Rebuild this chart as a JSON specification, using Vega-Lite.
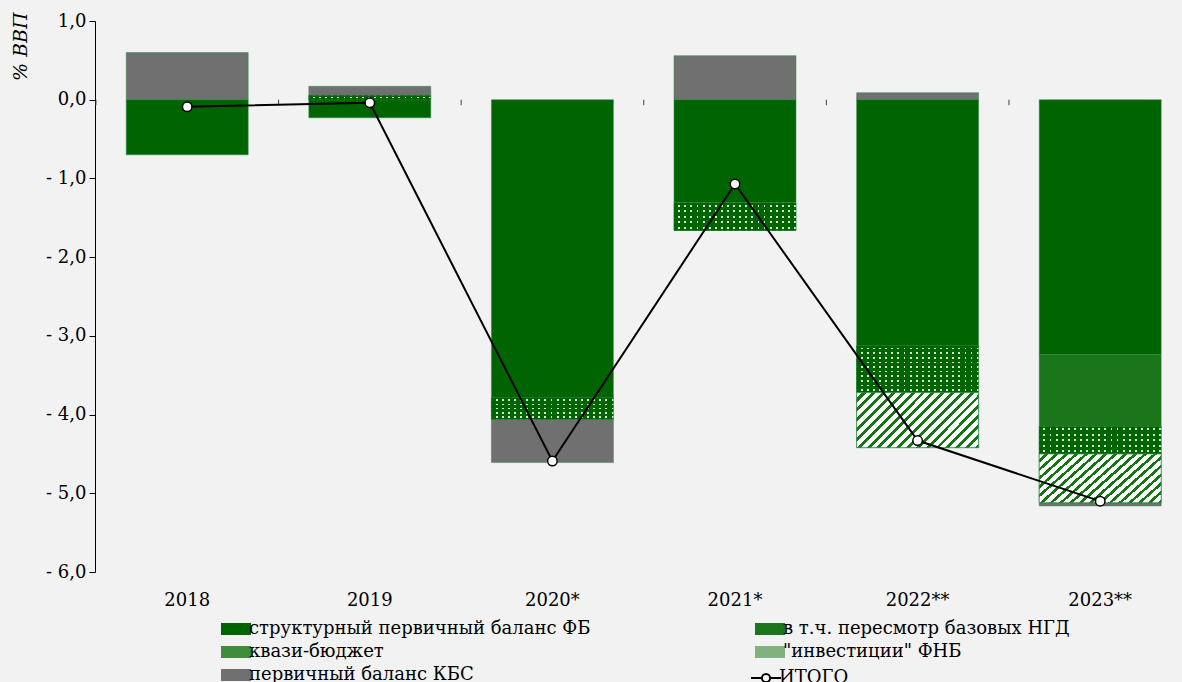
{
  "$schema": "https://vega.github.io/schema/vega-lite/v6.json",
  "autosize": {"type": "none"},
  "width": 1087,
  "height": 551,
  "padding": {"left": 95, "top": 21, "right": 0, "bottom": 110},
  "background": "#f2f2f2",
  "config": {"view": {"stroke": null}, "font": "DejaVu Serif"},
  "datasets": {
    "bars": [
      {"year": "2018", "comp": "первичный баланс КБС", "y0": 0, "y1": 0.6},
      {"year": "2018", "comp": "структурный первичный баланс ФБ", "y0": 0, "y1": -0.7},
      {"year": "2019", "comp": "квази-бюджет", "y0": 0, "y1": 0.055},
      {"year": "2019", "comp": "первичный баланс КБС", "y0": 0.055, "y1": 0.17},
      {"year": "2019", "comp": "структурный первичный баланс ФБ", "y0": 0, "y1": -0.23},
      {"year": "2020*", "comp": "структурный первичный баланс ФБ", "y0": 0, "y1": -3.79},
      {"year": "2020*", "comp": "квази-бюджет", "y0": -3.79, "y1": -4.06},
      {"year": "2020*", "comp": "первичный баланс КБС", "y0": -4.06, "y1": -4.61},
      {"year": "2021*", "comp": "первичный баланс КБС", "y0": 0, "y1": 0.56},
      {"year": "2021*", "comp": "структурный первичный баланс ФБ", "y0": 0, "y1": -1.31},
      {"year": "2021*", "comp": "квази-бюджет", "y0": -1.31, "y1": -1.66},
      {"year": "2022**", "comp": "первичный баланс КБС", "y0": 0, "y1": 0.09},
      {"year": "2022**", "comp": "структурный первичный баланс ФБ", "y0": 0, "y1": -3.13},
      {"year": "2022**", "comp": "квази-бюджет", "y0": -3.13, "y1": -3.72},
      {"year": "2022**", "comp": "\"инвестиции\" ФНБ", "y0": -3.72, "y1": -4.42},
      {"year": "2023**", "comp": "структурный первичный баланс ФБ", "y0": 0, "y1": -3.24},
      {"year": "2023**", "comp": "в т.ч. пересмотр базовых НГД", "y0": -3.24, "y1": -4.15},
      {"year": "2023**", "comp": "квази-бюджет", "y0": -4.15, "y1": -4.5},
      {"year": "2023**", "comp": "\"инвестиции\" ФНБ", "y0": -4.5, "y1": -5.12},
      {"year": "2023**", "comp": "первичный баланс КБС", "y0": -5.12, "y1": -5.16}
    ],
    "total": [
      {"year": "2018", "total": -0.09},
      {"year": "2019", "total": -0.04},
      {"year": "2020*", "total": -4.59},
      {"year": "2021*", "total": -1.07},
      {"year": "2022**", "total": -4.33},
      {"year": "2023**", "total": -5.1}
    ]
  },
  "encoding": {
    "x": {
      "field": "year", "type": "nominal", "sort": null,
      "scale": {"domain": ["2018", "2019", "2020*", "2021*", "2022**", "2023**"], "paddingInner": 0.332, "paddingOuter": 0.1425, "align": 0.6},
      "axis": {"title": null, "ticks": false, "domain": false, "labelAngle": 0, "labelPadding": 19, "labelFontSize": 18, "labelColor": "black", "labelFont": "DejaVu Serif"}
    }
  },
  "layer": [
    {
      "data": {"name": "bars"},
      "mark": {"type": "bar", "stroke": "#2e8b4e", "strokeOpacity": 0.5, "strokeWidth": 1},
      "encoding": {
        "y": {
          "field": "y0", "type": "quantitative",
          "scale": {"domain": [-6, 1], "nice": false, "zero": false},
          "axis": {
            "title": "% ВВП", "values": [1, 0, -1, -2, -3, -4, -5, -6], "grid": false,
            "domainColor": "black", "tickColor": "black", "tickSize": 6, "labelFontSize": 18, "labelColor": "black", "labelPadding": 3, "labelFont": "DejaVu Serif",
            "labelExpr": "datum.value < 0 ? '- ' + replace(format(-datum.value, '.1f'), '.', ',') : replace(format(datum.value, '.1f'), '.', ',')",
            "titleFontStyle": "italic", "titleFontWeight": "normal", "titleFontSize": 19, "titleColor": "black", "titleFont": "DejaVu Serif",
            "titleAngle": -90, "titleX": -75, "titleY": -9, "titleAlign": "right", "titleBaseline": "middle"
          }
        },
        "y2": {"field": "y1"},
        "color": {
          "field": "comp", "type": "nominal",
          "scale": {
            "domain": ["структурный первичный баланс ФБ", "квази-бюджет", "первичный баланс КБС", "в т.ч. пересмотр базовых НГД", "\"инвестиции\" ФНБ"],
            "range": ["#006400", "#3d8d3d", "#707070", "#1b761b", "#7fb27f"]
          },
          "legend": {
            "title": null, "orient": "none", "legendX": 132, "legendY": 599, "columns": 2, "columnPadding": 164, "rowPadding": 5,
            "symbolSize": 225, "symbolType": "M-2,-0.8H2V0.8H-2Z", "symbolStrokeWidth": 0, "labelFontSize": 18, "labelFont": "DejaVu Serif", "labelColor": "black", "labelOffset": 4, "labelLimit": 0
          }
        }
      }
    },
    {
      "data": {"name": "bars"},
      "transform": [{"filter": "datum.comp === 'квази-бюджет'"}],
      "mark": {
        "type": "bar", "stroke": "#2e8b4e", "strokeOpacity": 0.5, "strokeWidth": 1,
        "fill": {"gradient": "linear", "x1": 0, "y1": 0, "x2": 1, "y2": 0, "stops": [
          {"offset": 0, "color": "#006400"}, {"offset": 0.035, "color": "#006400"}, {"offset": 0.035, "color": "#d8e8d8"}, {"offset": 0.05, "color": "#d8e8d8"},
          {"offset": 0.05, "color": "#006400"}, {"offset": 0.085, "color": "#006400"}, {"offset": 0.085, "color": "#d8e8d8"}, {"offset": 0.1, "color": "#d8e8d8"},
          {"offset": 0.1, "color": "#006400"}, {"offset": 0.135, "color": "#006400"}, {"offset": 0.135, "color": "#d8e8d8"}, {"offset": 0.15, "color": "#d8e8d8"},
          {"offset": 0.15, "color": "#006400"}, {"offset": 0.185, "color": "#006400"}, {"offset": 0.185, "color": "#d8e8d8"}, {"offset": 0.2, "color": "#d8e8d8"},
          {"offset": 0.2, "color": "#006400"}, {"offset": 0.235, "color": "#006400"}, {"offset": 0.235, "color": "#d8e8d8"}, {"offset": 0.25, "color": "#d8e8d8"},
          {"offset": 0.25, "color": "#006400"}, {"offset": 0.285, "color": "#006400"}, {"offset": 0.285, "color": "#d8e8d8"}, {"offset": 0.3, "color": "#d8e8d8"},
          {"offset": 0.3, "color": "#006400"}, {"offset": 0.335, "color": "#006400"}, {"offset": 0.335, "color": "#d8e8d8"}, {"offset": 0.35, "color": "#d8e8d8"},
          {"offset": 0.35, "color": "#006400"}, {"offset": 0.385, "color": "#006400"}, {"offset": 0.385, "color": "#d8e8d8"}, {"offset": 0.4, "color": "#d8e8d8"},
          {"offset": 0.4, "color": "#006400"}, {"offset": 0.435, "color": "#006400"}, {"offset": 0.435, "color": "#d8e8d8"}, {"offset": 0.45, "color": "#d8e8d8"},
          {"offset": 0.45, "color": "#006400"}, {"offset": 0.485, "color": "#006400"}, {"offset": 0.485, "color": "#d8e8d8"}, {"offset": 0.5, "color": "#d8e8d8"},
          {"offset": 0.5, "color": "#006400"}, {"offset": 0.535, "color": "#006400"}, {"offset": 0.535, "color": "#d8e8d8"}, {"offset": 0.55, "color": "#d8e8d8"},
          {"offset": 0.55, "color": "#006400"}, {"offset": 0.585, "color": "#006400"}, {"offset": 0.585, "color": "#d8e8d8"}, {"offset": 0.6, "color": "#d8e8d8"},
          {"offset": 0.6, "color": "#006400"}, {"offset": 0.635, "color": "#006400"}, {"offset": 0.635, "color": "#d8e8d8"}, {"offset": 0.65, "color": "#d8e8d8"},
          {"offset": 0.65, "color": "#006400"}, {"offset": 0.685, "color": "#006400"}, {"offset": 0.685, "color": "#d8e8d8"}, {"offset": 0.7, "color": "#d8e8d8"},
          {"offset": 0.7, "color": "#006400"}, {"offset": 0.735, "color": "#006400"}, {"offset": 0.735, "color": "#d8e8d8"}, {"offset": 0.75, "color": "#d8e8d8"},
          {"offset": 0.75, "color": "#006400"}, {"offset": 0.785, "color": "#006400"}, {"offset": 0.785, "color": "#d8e8d8"}, {"offset": 0.8, "color": "#d8e8d8"},
          {"offset": 0.8, "color": "#006400"}, {"offset": 0.835, "color": "#006400"}, {"offset": 0.835, "color": "#d8e8d8"}, {"offset": 0.85, "color": "#d8e8d8"},
          {"offset": 0.85, "color": "#006400"}, {"offset": 0.885, "color": "#006400"}, {"offset": 0.885, "color": "#d8e8d8"}, {"offset": 0.9, "color": "#d8e8d8"},
          {"offset": 0.9, "color": "#006400"}, {"offset": 0.935, "color": "#006400"}, {"offset": 0.935, "color": "#d8e8d8"}, {"offset": 0.95, "color": "#d8e8d8"},
          {"offset": 0.95, "color": "#006400"}, {"offset": 0.985, "color": "#006400"}, {"offset": 0.985, "color": "#d8e8d8"}, {"offset": 1, "color": "#d8e8d8"}
        ]}
      },
      "encoding": {
        "y": {"field": "y0", "type": "quantitative", "scale": {"domain": [-6, 1], "nice": false, "zero": false}},
        "y2": {"field": "y1"}
      }
    },
    {
      "data": {"name": "bars"},
      "transform": [{"filter": "datum.comp === 'квази-бюджет' && (datum.year === '2020*' || datum.year === '2021*' || datum.year === '2023**')"}],
      "mark": {
        "type": "bar", "strokeWidth": 0,
        "fill": {"gradient": "linear", "x1": 0, "y1": 0, "x2": 0, "y2": 1, "stops": [
          {"offset": 0, "color": "#006400"}, {"offset": 0.065, "color": "#006400"}, {"offset": 0.065, "color": "rgba(0,100,0,0)"}, {"offset": 0.135, "color": "rgba(0,100,0,0)"},
          {"offset": 0.135, "color": "#006400"}, {"offset": 0.265, "color": "#006400"}, {"offset": 0.265, "color": "rgba(0,100,0,0)"}, {"offset": 0.335, "color": "rgba(0,100,0,0)"},
          {"offset": 0.335, "color": "#006400"}, {"offset": 0.465, "color": "#006400"}, {"offset": 0.465, "color": "rgba(0,100,0,0)"}, {"offset": 0.535, "color": "rgba(0,100,0,0)"},
          {"offset": 0.535, "color": "#006400"}, {"offset": 0.665, "color": "#006400"}, {"offset": 0.665, "color": "rgba(0,100,0,0)"}, {"offset": 0.735, "color": "rgba(0,100,0,0)"},
          {"offset": 0.735, "color": "#006400"}, {"offset": 0.865, "color": "#006400"}, {"offset": 0.865, "color": "rgba(0,100,0,0)"}, {"offset": 0.935, "color": "rgba(0,100,0,0)"},
          {"offset": 0.935, "color": "#006400"}, {"offset": 1, "color": "#006400"}
        ]}
      },
      "encoding": {
        "y": {"field": "y0", "type": "quantitative", "scale": {"domain": [-6, 1], "nice": false, "zero": false}},
        "y2": {"field": "y1"}
      }
    },
    {
      "data": {"name": "bars"},
      "transform": [{"filter": "datum.comp === 'квази-бюджет' && datum.year === '2022**'"}],
      "mark": {
        "type": "bar", "strokeWidth": 0,
        "fill": {"gradient": "linear", "x1": 0, "y1": 0, "x2": 0, "y2": 1, "stops": [
          {"offset": 0, "color": "#006400"}, {"offset": 0.0325, "color": "#006400"}, {"offset": 0.0325, "color": "rgba(0,100,0,0)"}, {"offset": 0.0675, "color": "rgba(0,100,0,0)"},
          {"offset": 0.0675, "color": "#006400"}, {"offset": 0.1325, "color": "#006400"}, {"offset": 0.1325, "color": "rgba(0,100,0,0)"}, {"offset": 0.1675, "color": "rgba(0,100,0,0)"},
          {"offset": 0.1675, "color": "#006400"}, {"offset": 0.2325, "color": "#006400"}, {"offset": 0.2325, "color": "rgba(0,100,0,0)"}, {"offset": 0.2675, "color": "rgba(0,100,0,0)"},
          {"offset": 0.2675, "color": "#006400"}, {"offset": 0.3325, "color": "#006400"}, {"offset": 0.3325, "color": "rgba(0,100,0,0)"}, {"offset": 0.3675, "color": "rgba(0,100,0,0)"},
          {"offset": 0.3675, "color": "#006400"}, {"offset": 0.4325, "color": "#006400"}, {"offset": 0.4325, "color": "rgba(0,100,0,0)"}, {"offset": 0.4675, "color": "rgba(0,100,0,0)"},
          {"offset": 0.4675, "color": "#006400"}, {"offset": 0.5325, "color": "#006400"}, {"offset": 0.5325, "color": "rgba(0,100,0,0)"}, {"offset": 0.5675, "color": "rgba(0,100,0,0)"},
          {"offset": 0.5675, "color": "#006400"}, {"offset": 0.6325, "color": "#006400"}, {"offset": 0.6325, "color": "rgba(0,100,0,0)"}, {"offset": 0.6675, "color": "rgba(0,100,0,0)"},
          {"offset": 0.6675, "color": "#006400"}, {"offset": 0.7325, "color": "#006400"}, {"offset": 0.7325, "color": "rgba(0,100,0,0)"}, {"offset": 0.7675, "color": "rgba(0,100,0,0)"},
          {"offset": 0.7675, "color": "#006400"}, {"offset": 0.8325, "color": "#006400"}, {"offset": 0.8325, "color": "rgba(0,100,0,0)"}, {"offset": 0.8675, "color": "rgba(0,100,0,0)"},
          {"offset": 0.8675, "color": "#006400"}, {"offset": 0.9325, "color": "#006400"}, {"offset": 0.9325, "color": "rgba(0,100,0,0)"}, {"offset": 0.9675, "color": "rgba(0,100,0,0)"},
          {"offset": 0.9675, "color": "#006400"}, {"offset": 1, "color": "#006400"}
        ]}
      },
      "encoding": {
        "y": {"field": "y0", "type": "quantitative", "scale": {"domain": [-6, 1], "nice": false, "zero": false}},
        "y2": {"field": "y1"}
      }
    },
    {
      "data": {"name": "bars"},
      "transform": [{"filter": "datum.comp === 'квази-бюджет' && datum.year === '2019'"}],
      "mark": {
        "type": "bar", "strokeWidth": 0,
        "fill": {"gradient": "linear", "x1": 0, "y1": 0, "x2": 0, "y2": 1, "stops": [
          {"offset": 0, "color": "#006400"}, {"offset": 0.3, "color": "#006400"}, {"offset": 0.3, "color": "rgba(0,100,0,0)"}, {"offset": 0.7, "color": "rgba(0,100,0,0)"},
          {"offset": 0.7, "color": "#006400"}, {"offset": 1, "color": "#006400"}
        ]}
      },
      "encoding": {
        "y": {"field": "y0", "type": "quantitative", "scale": {"domain": [-6, 1], "nice": false, "zero": false}},
        "y2": {"field": "y1"}
      }
    },
    {
      "data": {"name": "bars"},
      "transform": [{"filter": "indexof(datum.comp, 'инвест') >= 0"}],
      "mark": {
        "type": "bar", "stroke": "#2e8b4e", "strokeOpacity": 0.8, "strokeWidth": 1,
        "fill": {"gradient": "linear", "x1": 0, "y1": 0, "x2": 1.206, "y2": 0.543, "stops": [
          {"offset": 0, "color": "#ffffff"}, {"offset": 0.033, "color": "#ffffff"}, {"offset": 0.033, "color": "#157515"}, {"offset": 0.056, "color": "#157515"},
          {"offset": 0.056, "color": "#ffffff"}, {"offset": 0.089, "color": "#ffffff"}, {"offset": 0.089, "color": "#157515"}, {"offset": 0.111, "color": "#157515"},
          {"offset": 0.111, "color": "#ffffff"}, {"offset": 0.144, "color": "#ffffff"}, {"offset": 0.144, "color": "#157515"}, {"offset": 0.167, "color": "#157515"},
          {"offset": 0.167, "color": "#ffffff"}, {"offset": 0.2, "color": "#ffffff"}, {"offset": 0.2, "color": "#157515"}, {"offset": 0.222, "color": "#157515"},
          {"offset": 0.222, "color": "#ffffff"}, {"offset": 0.256, "color": "#ffffff"}, {"offset": 0.256, "color": "#157515"}, {"offset": 0.278, "color": "#157515"},
          {"offset": 0.278, "color": "#ffffff"}, {"offset": 0.311, "color": "#ffffff"}, {"offset": 0.311, "color": "#157515"}, {"offset": 0.333, "color": "#157515"},
          {"offset": 0.333, "color": "#ffffff"}, {"offset": 0.367, "color": "#ffffff"}, {"offset": 0.367, "color": "#157515"}, {"offset": 0.389, "color": "#157515"},
          {"offset": 0.389, "color": "#ffffff"}, {"offset": 0.422, "color": "#ffffff"}, {"offset": 0.422, "color": "#157515"}, {"offset": 0.444, "color": "#157515"},
          {"offset": 0.444, "color": "#ffffff"}, {"offset": 0.478, "color": "#ffffff"}, {"offset": 0.478, "color": "#157515"}, {"offset": 0.5, "color": "#157515"},
          {"offset": 0.5, "color": "#ffffff"}, {"offset": 0.533, "color": "#ffffff"}, {"offset": 0.533, "color": "#157515"}, {"offset": 0.556, "color": "#157515"},
          {"offset": 0.556, "color": "#ffffff"}, {"offset": 0.589, "color": "#ffffff"}, {"offset": 0.589, "color": "#157515"}, {"offset": 0.611, "color": "#157515"},
          {"offset": 0.611, "color": "#ffffff"}, {"offset": 0.644, "color": "#ffffff"}, {"offset": 0.644, "color": "#157515"}, {"offset": 0.667, "color": "#157515"},
          {"offset": 0.667, "color": "#ffffff"}, {"offset": 0.7, "color": "#ffffff"}, {"offset": 0.7, "color": "#157515"}, {"offset": 0.722, "color": "#157515"},
          {"offset": 0.722, "color": "#ffffff"}, {"offset": 0.756, "color": "#ffffff"}, {"offset": 0.756, "color": "#157515"}, {"offset": 0.778, "color": "#157515"},
          {"offset": 0.778, "color": "#ffffff"}, {"offset": 0.811, "color": "#ffffff"}, {"offset": 0.811, "color": "#157515"}, {"offset": 0.833, "color": "#157515"},
          {"offset": 0.833, "color": "#ffffff"}, {"offset": 0.867, "color": "#ffffff"}, {"offset": 0.867, "color": "#157515"}, {"offset": 0.889, "color": "#157515"},
          {"offset": 0.889, "color": "#ffffff"}, {"offset": 0.922, "color": "#ffffff"}, {"offset": 0.922, "color": "#157515"}, {"offset": 0.944, "color": "#157515"},
          {"offset": 0.944, "color": "#ffffff"}, {"offset": 0.978, "color": "#ffffff"}, {"offset": 0.978, "color": "#157515"}, {"offset": 1, "color": "#157515"}
        ]}
      },
      "encoding": {
        "y": {"field": "y0", "type": "quantitative", "scale": {"domain": [-6, 1], "nice": false, "zero": false}},
        "y2": {"field": "y1"}
      }
    },
    {
      "mark": {"type": "rule", "color": "#404040", "strokeWidth": 1.5},
      "encoding": {
        "x": {"value": 0},
        "x2": {"value": 1087},
        "y": {"datum": 0, "type": "quantitative", "scale": {"domain": [-6, 1], "nice": false, "zero": false}}
      }
    },
    {
      "data": {"name": "total"},
      "mark": {"type": "rule", "color": "#404040", "strokeWidth": 1},
      "encoding": {
        "x": {"field": "year", "type": "nominal", "sort": null, "bandPosition": -0.248},
        "y": {"datum": 0, "type": "quantitative", "scale": {"domain": [-6, 1], "nice": false, "zero": false}},
        "y2": {"datum": -0.07}
      }
    },
    {
      "data": {"name": "total"},
      "mark": {"type": "line", "color": "black", "strokeWidth": 2},
      "encoding": {
        "y": {"field": "total", "type": "quantitative", "scale": {"domain": [-6, 1], "nice": false, "zero": false}}
      }
    },
    {
      "data": {"name": "total"},
      "mark": {"type": "point", "filled": true, "fill": "white", "stroke": "black", "strokeWidth": 1.5, "size": 90, "opacity": 1},
      "encoding": {
        "y": {"field": "total", "type": "quantitative", "scale": {"domain": [-6, 1], "nice": false, "zero": false}}
      }
    },
    {
      "data": {"name": "total"},
      "mark": {"type": "point", "filled": false, "color": "black", "strokeWidth": 2, "size": 0},
      "encoding": {
        "y": {"field": "total", "type": "quantitative", "scale": {"domain": [-6, 1], "nice": false, "zero": false}},
        "shape": {
          "datum": "ИТОГО", "type": "nominal",
          "scale": {"domain": ["ИТОГО"], "range": ["M-2,0H-0.55M0.55,0H2M0.55,0A0.55,0.55,0,1,1,-0.55,0A0.55,0.55,0,1,1,0.55,0"]},
          "legend": {
            "title": null, "orient": "none", "legendX": 662, "legendY": 648,
            "symbolSize": 225, "symbolStrokeWidth": 2, "symbolOpacity": 1,
            "labelFontSize": 18, "labelFont": "DejaVu Serif", "labelColor": "black", "labelOffset": 4, "labelLimit": 0
          }
        }
      }
    }
  ]
}
